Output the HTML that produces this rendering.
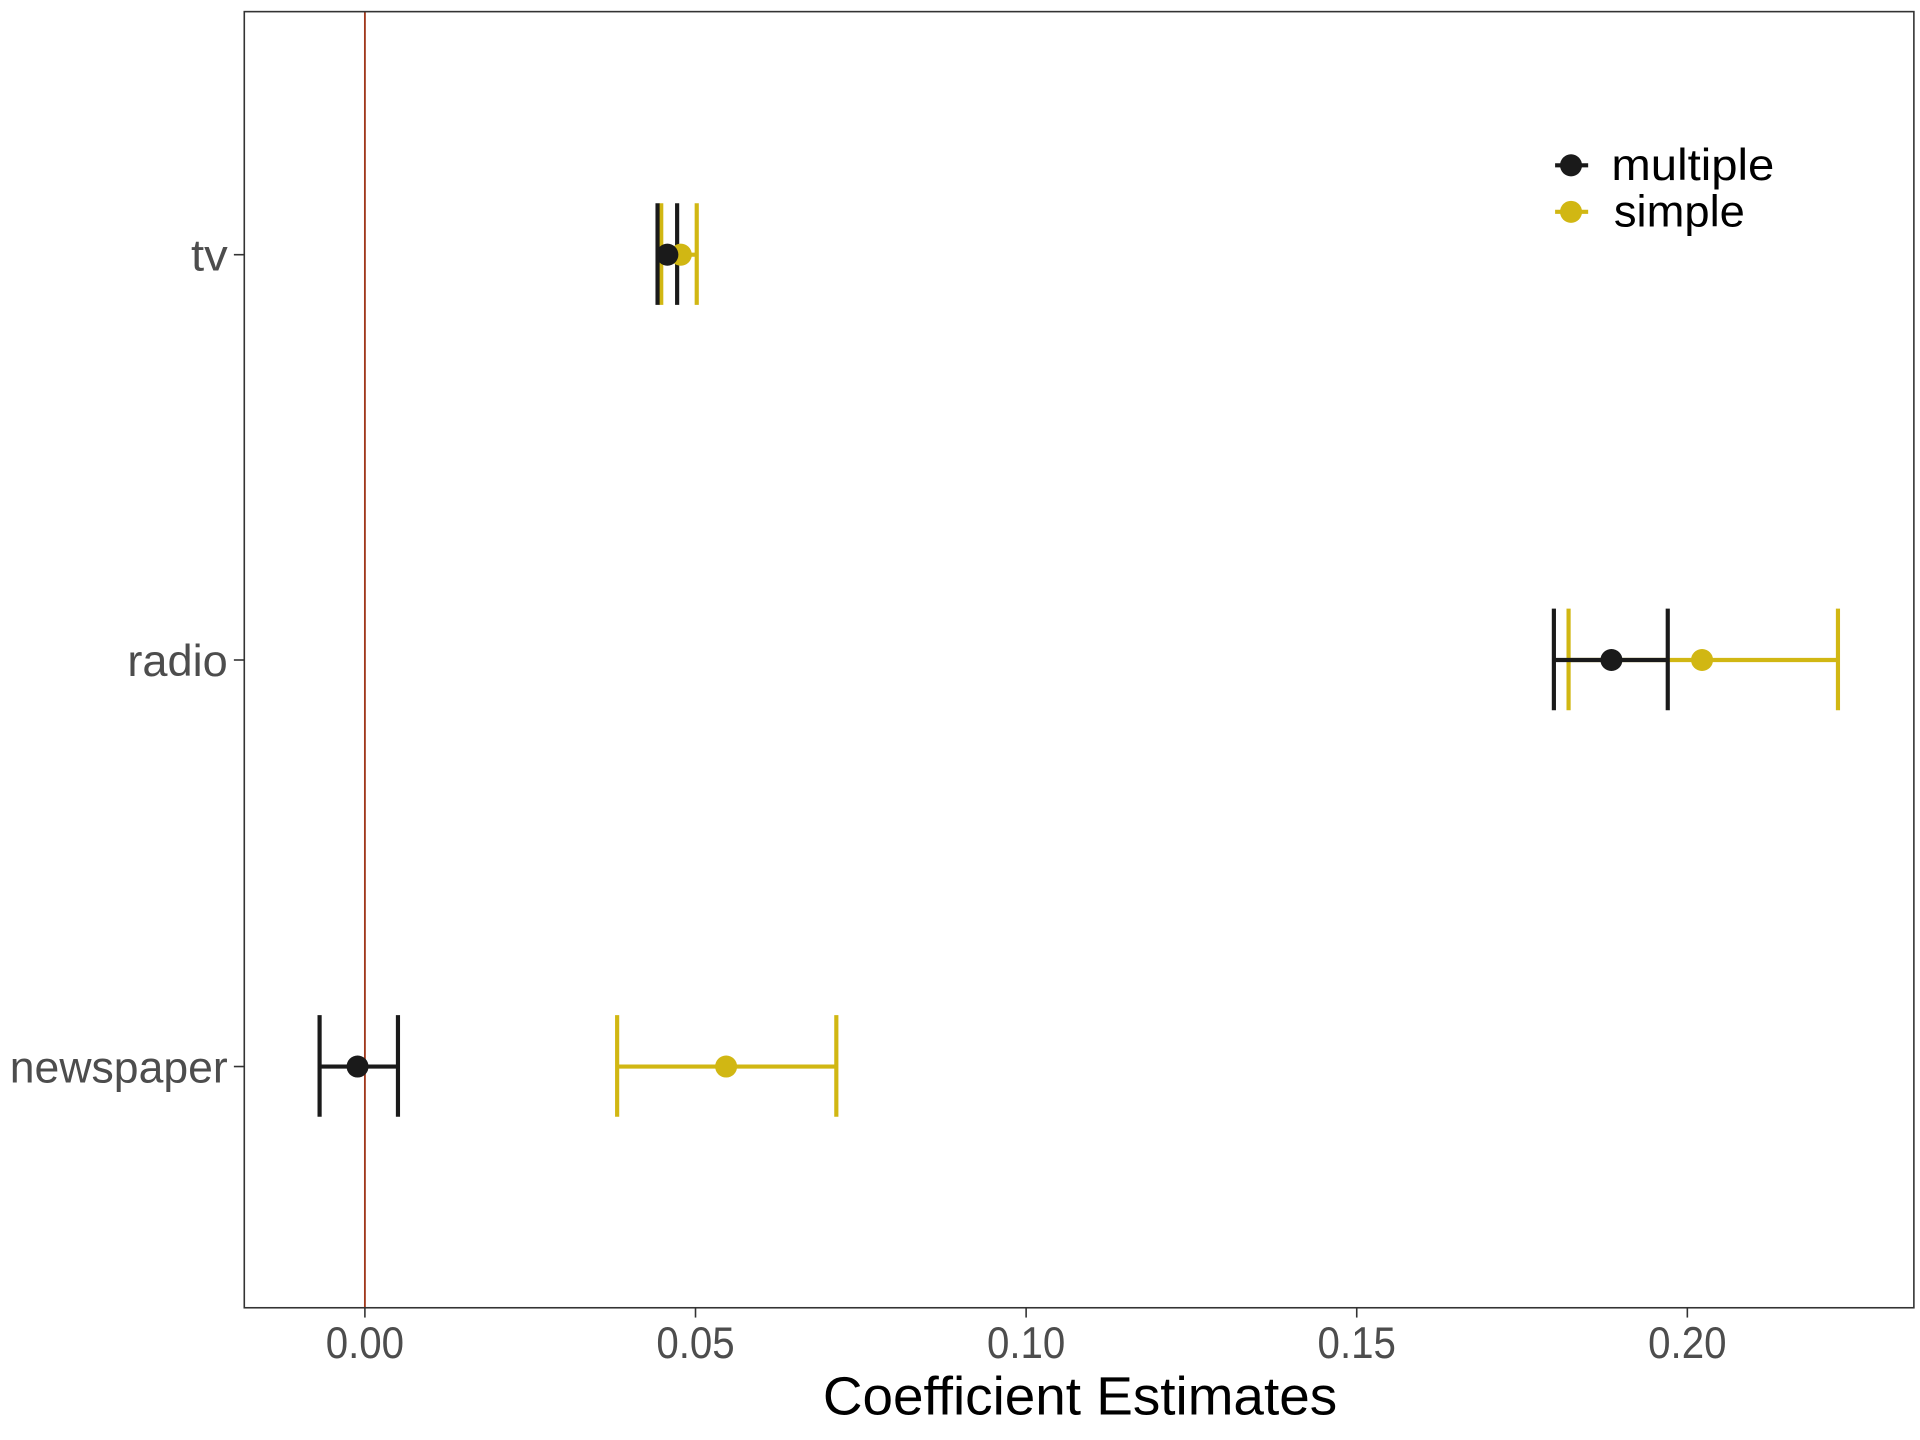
<!DOCTYPE html>
<html><head><meta charset="utf-8"><style>html,body{margin:0;padding:0;background:#fff}svg{display:block}</style></head>
<body>
<svg width="1920" height="1440" viewBox="0 0 1568 1176" xmlns="http://www.w3.org/2000/svg" font-family="Liberation Sans, sans-serif">
<rect width="1568" height="1176" fill="#fff"/>
<line x1="298" y1="9" x2="298" y2="1068" stroke="#a0381c" stroke-width="1.5"/>
<rect x="199.5" y="9.5" width="1363.5" height="1058.5" fill="none" stroke="#333" stroke-width="1.3"/>
<g stroke="#333" stroke-width="1.3">
<line x1="298" y1="1068" x2="298" y2="1076"/><line x1="568" y1="1068" x2="568" y2="1076"/><line x1="838" y1="1068" x2="838" y2="1076"/><line x1="1108" y1="1068" x2="1108" y2="1076"/><line x1="1378" y1="1068" x2="1378" y2="1076"/>
<line x1="191" y1="208" x2="199" y2="208"/><line x1="191" y1="539" x2="199" y2="539"/><line x1="191" y1="871" x2="199" y2="871"/>
</g>
<g fill="#4d4d4d" font-size="36" text-anchor="middle">
<text x="298" y="1109" textLength="64" lengthAdjust="spacingAndGlyphs">0.00</text>
<text x="568" y="1109" textLength="64" lengthAdjust="spacingAndGlyphs">0.05</text>
<text x="838" y="1109" textLength="64" lengthAdjust="spacingAndGlyphs">0.10</text>
<text x="1108" y="1109" textLength="64" lengthAdjust="spacingAndGlyphs">0.15</text>
<text x="1378" y="1109" textLength="64" lengthAdjust="spacingAndGlyphs">0.20</text>
</g>
<g fill="#4d4d4d" font-size="36" text-anchor="end">
<text x="186" y="221" textLength="30" lengthAdjust="spacingAndGlyphs">tv</text>
<text x="186" y="552" textLength="82" lengthAdjust="spacingAndGlyphs">radio</text>
<text x="186" y="884" textLength="178" lengthAdjust="spacingAndGlyphs">newspaper</text>
</g>
<text x="882" y="1155" font-size="44" text-anchor="middle" fill="#000" textLength="420" lengthAdjust="spacingAndGlyphs">Coefficient Estimates</text>
<g stroke-width="3.4" fill="none">
<g stroke="#d1b713">
<path d="M540 208H569M540 166V249M569 166V249"/>
<path d="M1281 539H1501M1281 497V580M1501 497V580"/>
<path d="M504 871H683M504 829V912M683 829V912"/>
</g>
<g stroke="#1a1a1a">
<path d="M537 208H553M537 166V249M553 166V249"/>
<path d="M1269 539H1362M1269 497V580M1362 497V580"/>
<path d="M261 871H325M261 829V912M325 829V912"/>
</g>
</g>
<g fill="#d1b713"><circle cx="556" cy="208" r="9"/><circle cx="1390" cy="539" r="9"/><circle cx="593" cy="871" r="9"/></g>
<g fill="#1a1a1a"><circle cx="545" cy="208" r="9"/><circle cx="1316" cy="539" r="9"/><circle cx="292" cy="871" r="9"/></g>
<path d="M1270 135H1297" stroke="#1a1a1a" stroke-width="3.4"/><circle cx="1283" cy="135" r="9" fill="#1a1a1a"/>
<path d="M1270 173H1297" stroke="#d1b713" stroke-width="3.4"/><circle cx="1283" cy="173" r="9" fill="#d1b713"/>
<g font-size="36" fill="#000">
<text x="1316" y="147" textLength="133" lengthAdjust="spacingAndGlyphs">multiple</text>
<text x="1318" y="185" textLength="107" lengthAdjust="spacingAndGlyphs">simple</text>
</g>
</svg>
</body></html>
